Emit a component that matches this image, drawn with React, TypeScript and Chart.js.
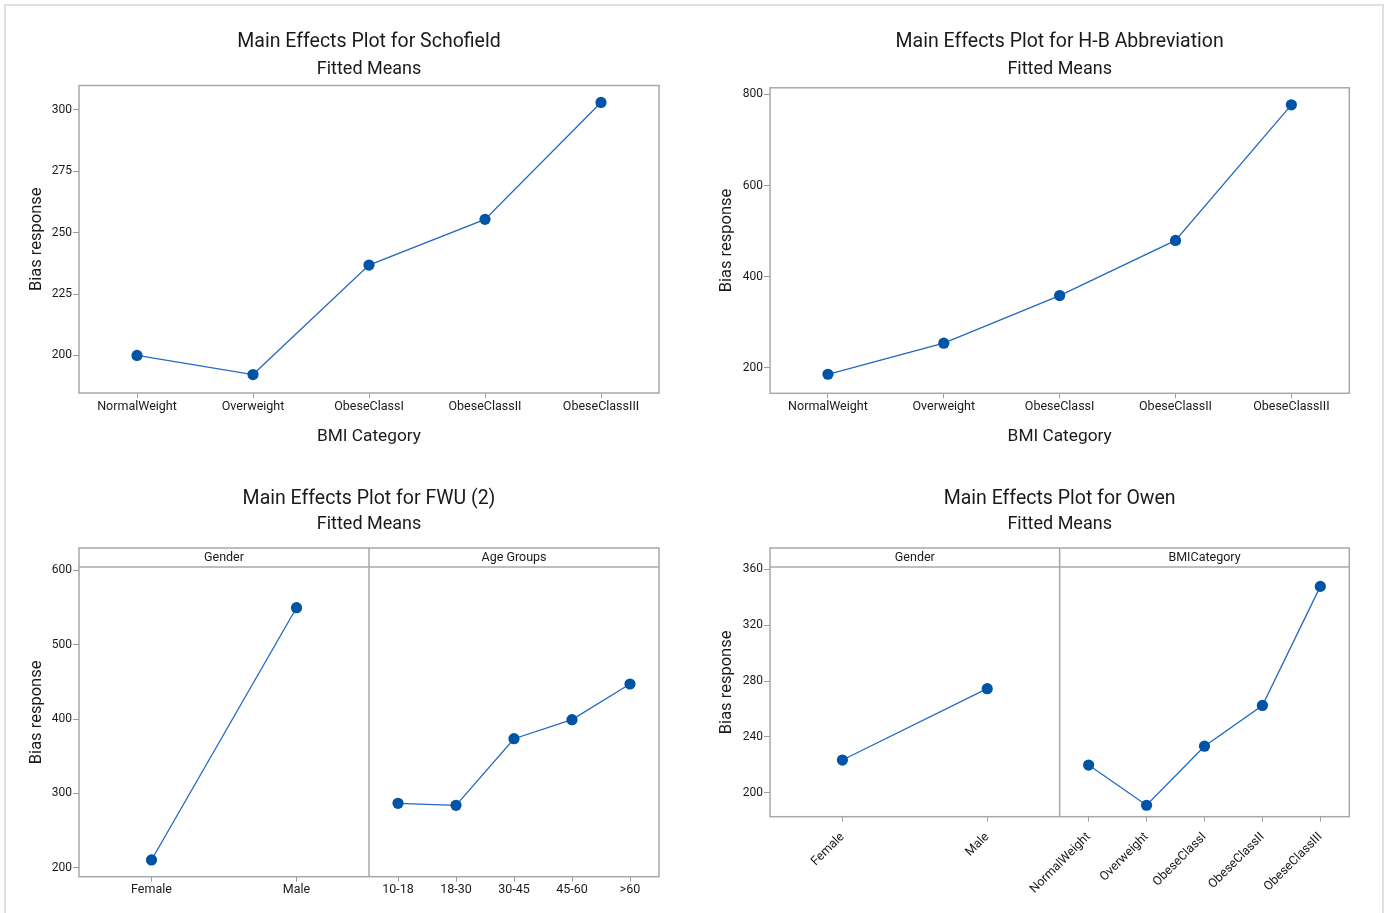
import React, { useEffect, useRef } from 'react';
import { Chart, registerables } from 'chart.js';

Chart.register(...registerables);

// ---------- data ----------
const bmiCategories = ['NormalWeight', 'Overweight', 'ObeseClassI', 'ObeseClassII', 'ObeseClassIII'];
const genderLabels = ['Female', 'Male'];
const ageLabels = ['10-18', '18-30', '30-45', '45-60', '>60'];

const schofieldValues = [200.0, 192.2, 236.8, 255.4, 303.0];
const schofieldTicks = [200, 225, 250, 275, 300];
const schofieldTickLabels = ['200', '225', '250', '275', '300'];
const schofieldRange = [184.7, 309.9];

const hbValues = [185.5, 253.7, 358.4, 479.4, 777.3];
const hbTicks = [200, 400, 600, 800];
const hbTickLabels = ['200', '400', '600', '800'];
const hbRange = [143.7, 814.7];

const fwuGenderValues = [210.4, 549.7];
const fwuAgeValues = [286.6, 283.9, 373.5, 399.1, 447.1];
const fwuTicks = [200, 300, 400, 500, 600];
const fwuTickLabels = ['200', '300', '400', '500', '600'];
const fwuRange = [187.9, 630.0];

const owenGenderValues = [223.4, 274.5];
const owenBmiValues = [219.8, 191.0, 233.3, 262.5, 347.8];
const owenTicks = [200, 240, 280, 320, 360];
const owenTickLabels = ['200', '240', '280', '320', '360'];
const owenRange = [182.8, 375.3];

const yTitle = 'Bias response';
const subtitleText = 'Fitted Means';

// ---------- styles ----------
const FONT = 'Roboto';
const TEXT = '#1a1a1a';
const AXIS = '#9e9e9e';
const FRAME = '#a8a8a8';
const LINE = '#2268c4';
const MARK = '#0054a6';

Chart.defaults.font.family = FONT;

type Sub = { labels: string[]; values: number[]; strip?: string };
type Spec = {
  title: string;
  subs: Sub[];
  yTicks: number[];
  yTickLabels: string[];
  yRange: number[];
  xTitle?: string;
  rotate: boolean;
  box: { left: number; top: number; width: number; height: number };
  pad: { left: number; right: number; top: number; bottom: number };
  yWidth: number;
  xHeight: number;
  titlePad: { top: number; bottom: number };
  subPad: { top: number; bottom: number };
  xTickPad: number;
};

const framePlugin = {
  id: 'frame',
  afterDraw(chart: any, _args: any, opts: any) {
    const { ctx, chartArea: a } = chart;
    ctx.save();
    ctx.strokeStyle = FRAME;
    ctx.lineWidth = 1.5;
    ctx.strokeRect(a.left, a.top, a.right - a.left, a.bottom - a.top);
    const strips: (string | undefined)[] = opts.strips || [];
    if (strips.some(Boolean)) {
      const sh = opts.stripHeight;
      ctx.beginPath();
      ctx.moveTo(a.left, a.top + sh);
      ctx.lineTo(a.right, a.top + sh);
      ctx.stroke();
      ctx.font = `12.5px ${FONT}`;
      ctx.fillStyle = TEXT;
      ctx.textAlign = 'center';
      ctx.textBaseline = 'middle';
      strips.forEach((label, i) => {
        const sc = chart.scales['x' + i];
        if (!sc) return;
        if (label) ctx.fillText(label, (sc.left + sc.right) / 2, a.top + sh / 2 + 0.5);
        if (i < strips.length - 1) {
          ctx.beginPath();
          ctx.moveTo(sc.right, a.top);
          ctx.lineTo(sc.right, a.bottom);
          ctx.stroke();
        }
      });
    }
    ctx.restore();
  },
};

function buildConfig(s: Spec): any {
  const scales: any = {};
  const datasets: any[] = [];
  const stacked = s.subs.length > 1;
  s.subs.forEach((g, i) => {
    const id = 'x' + i;
    scales[id] = {
      type: 'category',
      labels: g.labels,
      position: 'bottom',
      offset: true,
      ...(stacked ? { stack: 'panels', stackWeight: 1 } : {}),
      grid: { display: true, drawOnChartArea: false, drawTicks: true, tickLength: 5, color: AXIS, lineWidth: 1 },
      border: { display: false },
      ticks: {
        autoSkip: false,
        minRotation: s.rotate ? 45 : 0,
        maxRotation: s.rotate ? 45 : 0,
        padding: s.xTickPad,
        color: TEXT,
        font: { size: 12.5 },
      },
      title: s.xTitle
        ? { display: true, text: s.xTitle, color: TEXT, font: { size: 17.3 }, padding: { top: 0, bottom: 0 } }
        : { display: false },
      afterFit: (sc: any) => {
        sc.height = s.xHeight;
      },
    };
    datasets.push({
      data: g.values,
      xAxisID: id,
      yAxisID: 'y',
      borderColor: LINE,
      borderWidth: 1.3,
      pointRadius: 5.6,
      pointBackgroundColor: MARK,
      pointBorderColor: MARK,
      pointBorderWidth: 0,
      tension: 0,
      fill: false,
    });
  });
  scales.y = {
    type: 'linear',
    position: 'left',
    min: s.yRange[0],
    max: s.yRange[1],
    afterBuildTicks: (sc: any) => {
      sc.ticks = s.yTicks.map((v) => ({ value: v }));
    },
    afterFit: (sc: any) => {
      sc.width = s.yWidth;
    },
    grid: { display: true, drawOnChartArea: false, drawTicks: true, tickLength: 6, color: AXIS, lineWidth: 1 },
    border: { display: false },
    ticks: {
      padding: 1,
      color: TEXT,
      font: { size: 12 },
      callback: (_v: any, i: number) => s.yTickLabels[i],
    },
    title: { display: true, text: yTitle, color: TEXT, font: { size: 16.5 }, padding: { top: 7, bottom: 0 } },
  };
  return {
    type: 'line',
    data: { datasets },
    plugins: [framePlugin],
    options: {
      responsive: false,
      animation: false,
      events: [],
      layout: { padding: s.pad },
      scales,
      plugins: {
        legend: { display: false },
        tooltip: { enabled: false },
        title: {
          display: true,
          text: s.title,
          fullSize: false,
          color: TEXT,
          font: { size: 19.5, weight: 'normal' },
          padding: s.titlePad,
        },
        subtitle: {
          display: true,
          text: subtitleText,
          fullSize: false,
          color: TEXT,
          font: { size: 18, weight: 'normal' },
          padding: s.subPad,
        },
        frame: { strips: s.subs.map((g) => g.strip), stripHeight: 19 },
      },
    },
  };
}

const specs: Spec[] = [
  {
    title: 'Main Effects Plot for Schofield',
    subs: [{ labels: bmiCategories, values: schofieldValues }],
    yTicks: schofieldTicks,
    yTickLabels: schofieldTickLabels,
    yRange: schofieldRange,
    xTitle: 'BMI Category',
    rotate: false,
    box: { left: 0, top: 0, width: 690, height: 455 },
    pad: { left: 20, right: 31, top: 0, bottom: 7.6 },
    yWidth: 59,
    xHeight: 54.4,
    titlePad: { top: 30.8, bottom: 0 },
    subPad: { top: 4.6, bottom: 5.1 },
    xTickPad: 1,
  },
  {
    title: 'Main Effects Plot for H-B Abbreviation',
    subs: [{ labels: bmiCategories, values: hbValues }],
    yTicks: hbTicks,
    yTickLabels: hbTickLabels,
    yRange: hbRange,
    xTitle: 'BMI Category',
    rotate: false,
    box: { left: 690, top: 0, width: 697, height: 455 },
    pad: { left: 20, right: 37.7, top: 0, bottom: 7.6 },
    yWidth: 60,
    xHeight: 54.1,
    titlePad: { top: 30.8, bottom: 0 },
    subPad: { top: 4.6, bottom: 7.4 },
    xTickPad: 1,
  },
  {
    title: 'Main Effects Plot for FWU (2)',
    subs: [
      { labels: genderLabels, values: fwuGenderValues, strip: 'Gender' },
      { labels: ageLabels, values: fwuAgeValues, strip: 'Age Groups' },
    ],
    yTicks: fwuTicks,
    yTickLabels: fwuTickLabels,
    yRange: fwuRange,
    rotate: false,
    box: { left: 0, top: 455, width: 690, height: 458 },
    pad: { left: 20, right: 31, top: 0, bottom: 6.3 },
    yWidth: 59,
    xHeight: 30,
    titlePad: { top: 32.4, bottom: 0 },
    subPad: { top: 2.4, bottom: 13.2 },
    xTickPad: 1,
  },
  {
    title: 'Main Effects Plot for Owen',
    subs: [
      { labels: genderLabels, values: owenGenderValues, strip: 'Gender' },
      { labels: bmiCategories, values: owenBmiValues, strip: 'BMICategory' },
    ],
    yTicks: owenTicks,
    yTickLabels: owenTickLabels,
    yRange: owenRange,
    rotate: true,
    box: { left: 690, top: 455, width: 697, height: 458 },
    pad: { left: 20, right: 37.7, top: 0, bottom: 6.3 },
    yWidth: 60,
    xHeight: 90,
    titlePad: { top: 32.4, bottom: 0 },
    subPad: { top: 2.4, bottom: 13.2 },
    xTickPad: 8,
  },
];

function Panel({ spec }: { spec: Spec }) {
  const ref = useRef<HTMLCanvasElement | null>(null);
  useEffect(() => {
    if (!ref.current) return;
    const chart = new Chart(ref.current, buildConfig(spec));
    return () => chart.destroy();
  }, [spec]);
  const { left, top, width, height } = spec.box;
  return (
    <canvas
      ref={ref}
      width={width}
      height={height}
      style={{ position: 'absolute', left, top, width, height, display: 'block' }}
    />
  );
}

export default function App() {
  return (
    <div
      style={{
        position: 'absolute',
        left: 0,
        top: 0,
        width: 1387,
        height: 913,
        overflow: 'hidden',
        background: '#ffffff',
      }}
    >
      <div
        style={{
          position: 'absolute',
          left: 4,
          top: 4,
          width: 1380,
          height: 909,
          boxSizing: 'border-box',
          borderTop: '2px solid #e0e0e0',
          borderLeft: '2px solid #e0e0e0',
          borderRight: '2px solid #e0e0e0',
        }}
      />
      {specs.map((s, i) => (
        <Panel key={i} spec={s} />
      ))}
    </div>
  );
}
